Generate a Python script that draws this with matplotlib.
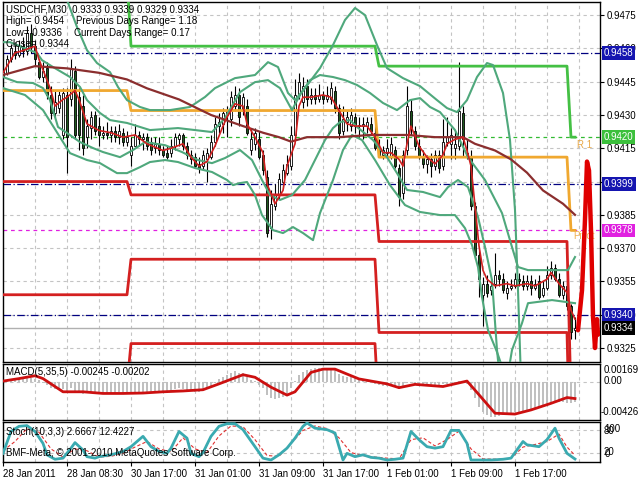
import numpy as np
import matplotlib
matplotlib.use("Agg")
import matplotlib.pyplot as plt
from matplotlib.transforms import blended_transform_factory as btf

plt.rcParams['font.family'] = ['Liberation Sans', 'DejaVu Sans']

# ---------------- price bars (USDCHF M30) ----------------
open_ = [0.9447,0.9449,0.9455,0.9459,0.9457,0.9461,0.9459,0.9467,0.9461,0.9454,
         0.9447,0.9451,0.9439,0.9431,0.9433,0.9421,0.9439,0.9437,0.9450,0.9438,
         0.9434,0.9420,0.9424,0.9430,0.9425,0.9421,0.9422,0.9421,0.9423,0.9420,
         0.9422,0.9418,0.9412,0.9416,0.9421,0.9419,0.9420,0.9418,0.9415,0.9417,
         0.9414,0.9413,0.9413,0.9416,0.9419,0.9421,0.9416,0.9412,0.9411,0.9408,
         0.9407,0.9410,0.9411,0.9418,0.9425,0.9426,0.9430,0.9428,0.9434,0.9439,
         0.9432,0.9434,0.9414,0.9417,0.9419,0.9412,0.9402,0.9379,0.9389,0.9394,
         0.9400,0.9404,0.9407,0.9421,0.9439,0.9436,0.9443,0.9437,0.9439,0.9437,
         0.9439,0.9437,0.9437,0.9441,0.9433,0.9423,0.9427,0.9425,0.9429,0.9425,
         0.9425,0.9425,0.9426,0.9422,0.9415,0.9412,0.9413,0.9411,0.9414,0.9406,
         0.9395,0.9414,0.9432,0.9423,0.9416,0.9411,0.9408,0.9410,0.9407,0.9412,
         0.9407,0.9418,0.9417,0.9415,0.9416,0.9431,0.9413,0.9411,0.9389,0.9367,
         0.9349,0.9354,0.9351,0.9354,0.9358,0.9356,0.9350,0.9352,0.9353,0.9356,
         0.9355,0.9353,0.9355,0.9352,0.9355,0.9349,0.9352,0.9358,0.9361,0.9356,
         0.9349,0.9353,0.9344,0.9333]
high = [0.9452,0.9457,0.9462,0.9463,0.9464,0.9465,0.9470,0.9471,0.9464,0.9455,
        0.9454,0.9454,0.9443,0.9441,0.9441,0.9442,0.9442,0.9455,0.9452,0.9442,
        0.9439,0.9428,0.9432,0.9432,0.9429,0.9425,0.9427,0.9425,0.9425,0.9426,
        0.9424,0.9423,0.9420,0.9426,0.9423,0.9422,0.9422,0.9420,0.9420,0.9420,
        0.9416,0.9416,0.9419,0.9422,0.9422,0.9422,0.9418,0.9414,0.9413,0.9411,
        0.9414,0.9415,0.9421,0.9429,0.9431,0.9433,0.9434,0.9441,0.9443,0.9442,
        0.9440,0.9437,0.9424,0.9424,0.9423,0.9414,0.9405,0.9396,0.9399,0.9404,
        0.9408,0.9412,0.9425,0.9446,0.9449,0.9447,0.9446,0.9442,0.9442,0.9444,
        0.9441,0.9443,0.9445,0.9443,0.9435,0.9434,0.9432,0.9433,0.9431,0.9429,
        0.9429,0.9429,0.9429,0.9425,0.9419,0.9416,0.9419,0.9420,0.9416,0.9408,
        0.9414,0.9443,0.9437,0.9425,0.9419,0.9414,0.9412,0.9413,0.9414,0.9414,
        0.9428,0.9429,0.9424,0.9423,0.9454,0.9434,0.9419,0.9414,0.9391,0.9369,
        0.9357,0.9358,0.9356,0.9368,0.9360,0.9359,0.9355,0.9356,0.9359,0.9359,
        0.9358,0.9358,0.9358,0.9356,0.9358,0.9355,0.9362,0.9364,0.9363,0.9359,
        0.9355,0.9356,0.9345,0.9339]
low = [0.9446,0.9448,0.9454,0.9455,0.9456,0.9456,0.9457,0.9458,0.9452,0.9446,
       0.9445,0.9437,0.9428,0.9429,0.9431,0.9419,0.9404,0.9434,0.9419,0.9414,
       0.9412,0.9415,0.9419,0.9421,0.9416,0.9419,0.9419,0.9418,0.9418,0.9417,
       0.9416,0.9416,0.9407,0.9416,0.9416,0.9414,0.9414,0.9412,0.9413,0.9412,
       0.9411,0.9410,0.9411,0.9414,0.9416,0.9414,0.9410,0.9408,0.9406,0.9404,
       0.9405,0.9400,0.9410,0.9416,0.9422,0.9422,0.9420,0.9425,0.9432,0.9425,
       0.9430,0.9421,0.9412,0.9414,0.9410,0.9403,0.9375,0.9374,0.9387,0.9392,
       0.9397,0.9403,0.9405,0.9419,0.9437,0.9433,0.9434,0.9435,0.9435,0.9436,
       0.9435,0.9436,0.9435,0.9431,0.9419,0.9421,0.9423,0.9423,0.9422,0.9420,
       0.9419,0.9422,0.9421,0.9414,0.9411,0.9410,0.9411,0.9410,0.9406,0.9389,
       0.9392,0.9412,0.9421,0.9414,0.9410,0.9406,0.9404,0.9402,0.9405,0.9404,
       0.9405,0.9416,0.9410,0.9410,0.9414,0.9411,0.9410,0.9387,0.9365,0.9348,
       0.9335,0.9348,0.9349,0.9352,0.9353,0.9350,0.9347,0.9351,0.9352,0.9353,
       0.9351,0.9351,0.9349,0.9351,0.9347,0.9348,0.9351,0.9356,0.9355,0.9348,
       0.9347,0.9342,0.9329,0.9329]
close = [0.9450,0.9455,0.9460,0.9457,0.9461,0.9459,0.9467,0.9461,0.9455,0.9447,
         0.9450,0.9439,0.9431,0.9436,0.9439,0.9440,0.9420,0.9451,0.9421,0.9421,
         0.9415,0.9425,0.9429,0.9423,0.9421,0.9422,0.9421,0.9423,0.9420,0.9423,
         0.9418,0.9420,0.9416,0.9421,0.9419,0.9420,0.9416,0.9414,0.9417,0.9414,
         0.9412,0.9411,0.9416,0.9420,0.9421,0.9416,0.9412,0.9410,0.9407,0.9406,
         0.9412,0.9413,0.9418,0.9426,0.9427,0.9431,0.9432,0.9438,0.9439,0.9429,
         0.9438,0.9422,0.9419,0.9422,0.9411,0.9405,0.9377,0.9390,0.9394,0.9401,
         0.9405,0.9408,0.9421,0.9439,0.9445,0.9443,0.9437,0.9439,0.9437,0.9439,
         0.9437,0.9439,0.9442,0.9433,0.9422,0.9428,0.9429,0.9430,0.9425,0.9425,
         0.9426,0.9427,0.9423,0.9415,0.9412,0.9414,0.9415,0.9417,0.9407,0.9393,
         0.9412,0.9434,0.9424,0.9416,0.9411,0.9408,0.9410,0.9407,0.9412,0.9406,
         0.9418,0.9420,0.9421,0.9417,0.9432,0.9419,0.9411,0.9389,0.9367,0.9356,
         0.9354,0.9350,0.9353,0.9358,0.9356,0.9351,0.9352,0.9353,0.9356,0.9355,
         0.9353,0.9355,0.9352,0.9354,0.9348,0.9352,0.9358,0.9361,0.9356,0.9349,
         0.9353,0.9344,0.9332,0.9334]

# ---------------- moving averages ----------------
fast_ma_bar = [0,3,5,8,9,12,13,15,16,18,19,21,24,27,30,33,36,40,42,45,47,49,51,53,55,56,58,60,61,63,
               65,66,68,70,71,73,74,75,77,80,82,84,86,88,91,93,95,97,99,100,101,102,104,106,108,110,
               111,113,115,116,117,118,119,120,121,123,126,128,131,133,136,137,139,141,142,143]
fast_ma_val = [0.9449,0.9458,0.9459,0.9461,0.9455,0.9441,0.9434,0.9437,0.9438,0.9441,0.9437,0.9426,
               0.9423,0.9422,0.9420,0.9421,0.9417,0.9414,0.9415,0.9417,0.9411,0.9407,0.9409,0.9416,
               0.9425,0.9429,0.9435,0.9434,0.9426,0.9420,0.9413,0.9399,0.9390,0.9396,0.9407,0.9417,
               0.9434,0.9438,0.9438,0.9439,0.9438,0.9432,0.9426,0.9425,0.9425,0.9420,0.9413,0.9413,
               0.9410,0.9407,0.9417,0.9425,0.9416,0.9411,0.9408,0.9412,0.9417,0.9419,0.9420,0.9414,
               0.9407,0.9389,0.9371,0.9360,0.9356,0.9353,0.9354,0.9353,0.9354,0.9353,0.9356,0.9359,
               0.9354,0.9350,0.9342,0.9338]
slow_ma_bar = [0,8,16,24,31,36,44,52,60,65,69,72,76,84,92,101,108,115,118,123,127,131,135,140,143]
slow_ma_val = [0.9448,0.9452,0.9451,0.9449,0.9446,0.9442,0.9437,0.9430,0.9425,0.9422,0.9420,0.9418,
               0.9420,0.9420,0.9421,0.9421,0.9420,0.9420,0.9417,0.9414,0.9410,0.9404,0.9396,0.9390,0.9385]

# ---------------- band curves (green) ----------------
bandP_bar = [0,11.75,16,18.5,21,23.5,26.75,28.75,31,34.25,36.75,41.75,46.75,50.5,53,58,63,66.25,68.75,71.25,
             73,75.5,79.25,82.5,85.5,88,90.5,93.5,96,100,104.25,108.5,111,113.5,116,118.5,121,122.5,125,126.75,
             128,128.75,129.5,130.25]
bandP_val = [0.95088,0.94930,0.94818,0.94696,0.94592,0.94534,0.94493,0.94426,0.94367,0.94336,
             0.94322,0.94322,0.94336,0.94381,0.94421,0.94466,0.94480,0.94538,0.94516,0.94399,
             0.94367,0.94421,0.94511,0.94615,0.94728,0.94782,0.94750,0.94615,0.94511,0.94466,
             0.94430,0.94367,0.94331,0.94313,0.94367,0.94471,0.94534,0.94525,0.94399,0.94187,
             0.93872,0.93511,0.93106,0.92790]
bandQ_bar = [0,1.75,8.5,9.75,12.5,16.75,19.25,21,24.25,26.75,31,34.25,36.75,43.75,52.25,55.5,59.25,63,
             66.25,69.25,72.25,74.25,76.75,79.25,82.5,85.5,88.5,91.75,95,98.5,101.75,104.25,106.75,109.25,
             113,116.25,120.5,124.75,127.25,128.75,131.25,141.25,143]
bandQ_val = [0.94628,0.94628,0.94579,0.94547,0.94516,0.94471,0.94426,0.94367,0.94309,0.94277,
             0.94264,0.94246,0.94232,0.94241,0.94223,0.94286,0.94403,0.94448,0.94457,0.94421,
             0.94322,0.94390,0.94457,0.94480,0.94471,0.94457,0.94435,0.94399,0.94354,0.94322,
             0.94367,0.94376,0.94336,0.94313,0.94232,0.94110,0.94007,0.93858,0.93705,0.93615,
             0.93601,0.93601,0.93660]
bandR_bar = [0,3.5,7.5,10,11.75,13.75,16,19.25,22.5,25,29.25,32.5,35.5,40.5,44.75,48.75,52.25,55.5,
             59.25,62.25,64.75,66.75,69.25,72.25,75.5,78,80.5,82.5,84.25,86.75,88.5,92.5,96,98.5,101,105,
             109.25,111.25,113.75,116.25,118.75,120.5,122.25,123.5,124.25]
bandR_val = [0.94471,0.94448,0.94444,0.94421,0.94367,0.94246,0.94219,0.94178,0.94151,0.94133,
             0.94110,0.94142,0.94178,0.94164,0.94133,0.94097,0.94083,0.94106,0.94142,0.94097,
             0.94007,0.93939,0.93917,0.93939,0.94007,0.94097,0.94187,0.94241,0.94268,0.94277,
             0.94246,0.94187,0.94110,0.94038,0.93962,0.93953,0.93930,0.93975,0.94007,0.93975,
             0.93840,0.93705,0.93556,0.93241,0.93106]
bandS_bar = [0,5.5,10,14.25,16.75,21,24.25,28.5,31,34.25,36.75,40.5,43.75,48,52.25,56,57.5,59.25,61,63,
             64.75,67.5,70,72.5,75,77.5,79.25,82.5,85,87.25,89.75,93,96.75,100.5,104.25,109.25,113,115.5,
             117.25,118.75,119.75,121.25,123.5,125.5,126.75,127.25,129.75,131.25,137.25,143]
bandS_val = [0.94421,0.94390,0.94322,0.94200,0.94128,0.94097,0.94083,0.94038,0.94038,0.94065,
             0.94088,0.94097,0.94088,0.94061,0.94043,0.94007,0.93984,0.93993,0.93998,0.93939,
             0.93849,0.93781,0.93768,0.93795,0.93768,0.93736,0.93858,0.94007,0.94142,0.94210,
             0.94187,0.94097,0.93984,0.93894,0.93863,0.93849,0.93849,0.93790,0.93714,0.93615,
             0.93480,0.93331,0.93232,0.93128,0.93187,0.93241,0.93362,0.93452,0.93466,0.93452]

# ---------------- daily pivot levels ----------------
day_start = [0, 32, 94, 142]
pivot_lv = [0.9441, 0.9432, 0.9411, 0.9378]
r1_lv = [0.9492, 0.9461, 0.9452, 0.9420]
s1_lv = [0.9400, 0.9394, 0.9373, 0.9302]
s2_lv = [0.9349, 0.9365, 0.9332, 0.9260]
s3_lv = [0.9308, 0.9327, 0.9294, 0.9184]

forecast_bar = [143.75, 144.75, 145.5, 146.0, 146.5, 147.0, 147.5, 148.0, 148.5, 148.75]
forecast_val = [0.9333, 0.9351, 0.9383, 0.9409, 0.9405, 0.9378, 0.9339, 0.9325, 0.9338, 0.9331]

navy_levels = [0.9458, 0.9399, 0.9340]
r1_level = 0.9420
pivot_level = 0.9378
bid_level = 0.9334
price_ticks = [0.9325, 0.9340, 0.9355, 0.9370, 0.9385, 0.9400, 0.9415, 0.9430, 0.9445, 0.9460, 0.9475]

# ---------------- MACD(5,35,5) ----------------
macd_hist = [0.0001,0.0001,0.0002,0.0003,0.0003,0.0004,0.0005,0.0005,0.0004,0.0002,
             -0.0001,-0.0004,-0.0007,-0.0009,-0.0010,-0.0009,-0.0011,-0.0008,-0.0011,-0.0013,
             -0.0015,-0.0014,-0.0013,-0.0013,-0.0013,-0.0013,-0.0013,-0.0013,-0.0013,-0.0012,
             -0.0013,-0.0013,-0.0014,-0.0012,-0.0012,-0.0012,-0.0012,-0.0012,-0.0012,-0.0012,
             -0.0012,-0.0012,-0.0011,-0.0009,-0.0008,-0.0009,-0.0010,-0.0011,-0.0012,-0.0012,
             -0.0010,-0.0008,-0.0005,-0.0001,0.0003,0.0006,0.0008,0.0011,0.0013,0.0011,
             0.0011,0.0006,0.0002,0.0001,-0.0004,-0.0008,-0.0016,-0.0020,-0.0021,-0.0020,
             -0.0018,-0.0015,-0.0008,0.0001,0.0008,0.0012,0.0014,0.0016,0.0017,0.0017,
             0.0017,0.0017,0.0017,0.0014,0.0009,0.0007,0.0006,0.0006,0.0005,0.0004,
             0.0003,0.0003,0.0001,-0.0002,-0.0004,-0.0005,-0.0005,-0.0004,-0.0006,-0.0009,
             -0.0006,-0.0001,-0.0001,-0.0003,-0.0004,-0.0005,-0.0005,-0.0005,-0.0005,-0.0005,
             -0.0003,-0.0002,-0.0001,-0.0001,0.0001,0.0001,-0.0002,-0.0010,-0.0020,-0.0030,
             -0.0036,-0.0040,-0.0043,-0.0042,-0.0041,-0.0040,-0.0039,-0.0038,-0.0037,-0.0036,
             -0.0035,-0.0034,-0.0033,-0.0032,-0.0032,-0.0030,-0.0027,-0.0025,-0.0024,-0.0024,
             -0.0024,-0.0025,-0.0026,-0.00245]
macd_sig_bar = [0,4,8,10,15,20,25,30,35,40,45,50,54,60,63,67,71,73,77,80,83,86,89,96,99,103,110,116,
                118,123,128,132,137,141,143]
macd_sig_val = [0.0001,0.0004,0.00075,0.0004,-0.0012,-0.0012,-0.0014,-0.0014,-0.00135,-0.0012,-0.0011,
                -0.00095,-0.00024,0.00087,0.00056,-0.00064,-0.0016,-0.0012,0.00115,0.00155,0.00155,
                0.00095,0.00036,-0.00024,-0.0007,-0.0003,-0.00056,0.0001,-0.0010,-0.0038,-0.0039,
                -0.0034,-0.0026,-0.0019,-0.00202]

# ---------------- Stochastic(10,3,3) ----------------
stoch_bar = [0,2,4,6,8,10,11,13,15,17,18,20,21,23,24,27,30,32,35,37,39,41,42,44,46,47,49,50,52,54,
             56,58,60,63,65,67,69,71,73,75,76,78,81,83,84,85,86,88,90,92,94,96,98,100,102,104,106,
             108,110,112,114,116,117,122,125,127,130,131,134,136,138,139,141,143]
stoch_main = [18,77,91,93,77,45,14,2,5,32,47,27,9,5,9,14,23,36,64,36,23,18,32,77,59,18,9,20,64,91,
              98,98,82,36,5,0,14,32,59,91,100,86,82,73,36,0,18,9,14,7,5,0,2,5,77,55,36,
              32,36,80,80,45,0,0,2,5,50,41,36,55,86,59,18,2.67]
stoch_sig_bar = [0,3,6,9,12,15,18,21,24,27,30,33,36,39,42,45,48,51,54,57,60,63,66,69,72,75,78,81,84,87,
                 90,93,96,99,102,105,108,111,114,117,120,124,127,130,133,136,139,141,143]
stoch_sig = [25,50,85,75,30,8,30,25,8,10,18,35,50,30,22,60,30,20,65,92,90,55,12,10,45,80,92,85,60,20,
             12,8,5,3,55,60,38,55,78,30,3,2,5,35,42,50,70,35,12.42]

time_labels = ['28 Jan 2011', '28 Jan 08:30', '30 Jan 17:00', '31 Jan 01:00', '31 Jan 09:00',
               '31 Jan 17:00', '1 Feb 01:00', '1 Feb 09:00', '1 Feb 17:00']
time_label_bars = [0, 16, 32, 48, 64, 80, 96, 112, 128]

# ======================================================================
W, H = 640, 480
fig = plt.figure(figsize=(W / 100, H / 100), dpi=100)
fig.patch.set_facecolor('white')

def rect(x0, y0, x1, y1):
    return [x0 / W, 1 - y1 / H, (x1 - x0) / W, (y1 - y0) / H]

ax = fig.add_axes(rect(3, 2, 600, 362))
axm = fig.add_axes(rect(3, 364, 600, 420))
axs = fig.add_axes(rect(3, 422, 600, 462))

XMAX = 149.25
grid_bars = list(range(0, 150, 8))
GRID = dict(color='#C4C4C4', lw=0.8, ls=(0, (3, 3)))
FS = 7

for a in (ax, axm, axs):
    a.set_xlim(0, XMAX)
    for s in a.spines.values():
        s.set_color('black')
        s.set_linewidth(1.0)
    for gb in grid_bars[1:]:
        a.axvline(gb, zorder=0, **GRID)
    a.tick_params(axis='x', length=0, labelbottom=False)
    a.set_xticks([])

def ftext(px, py, s, **kw):
    kw.setdefault('color', 'black')
    fig.text(px / W, 1 - py / H, s, fontsize=FS, va='center', ha='left', **kw)

# ---------- main panel ----------
ax.set_ylim(0.93187, 0.94809)
for pt in price_ticks:
    ax.axhline(pt, zorder=0, **GRID)
ax.yaxis.tick_right()
ax.set_yticks(price_ticks)
ax.set_yticklabels(['%.4f' % p for p in price_ticks])
ax.tick_params(axis='y', length=3, width=0.8, pad=2, labelsize=FS, colors='black')

tr = btf(ax.transAxes, ax.transData)
for lv in navy_levels:
    ax.axhline(lv, color='#000080', lw=0.9, ls=(0, (6, 2, 1, 2)), zorder=1)
ax.axhline(r1_level, color='#33BB33', lw=0.9, ls=(0, (3, 3)), zorder=1)
ax.axhline(pivot_level, color='#E020E0', lw=0.9, ls=(0, (3, 3)), zorder=1)
ax.axhline(bid_level, color='#B0B0B0', lw=1.0, zorder=1)

n = len(close)
x = np.arange(n)
o = np.array(open_); c = np.array(close); hh = np.array(high); ll = np.array(low)
ax.vlines(x, ll, hh, color='black', lw=0.8, zorder=3)
bot = np.minimum(o, c)
ht = np.maximum(np.abs(c - o), 0.00003)
up = c >= o
ax.bar(x[up], ht[up], bottom=bot[up], width=0.72, color='white', edgecolor='black', lw=0.6, zorder=4)
ax.bar(x[~up], ht[~up], bottom=bot[~up], width=0.72, color='#1E5A1E', edgecolor='black', lw=0.6, zorder=4)

lengths = np.diff(day_start + [n])
def steps(vals):
    return np.repeat(vals, lengths)
for lvls in (s3_lv, s2_lv, s1_lv):
    ax.plot(x, steps(lvls), color='#D42020', lw=2, zorder=5)
ax.plot(x, steps(pivot_lv), color='#F0A830', lw=2, zorder=5)
ax.plot(x, steps(r1_lv), color='#44C044', lw=2, zorder=5)

band_col = '#4FA87C'
for bb, bv in ((bandP_bar, bandP_val), (bandQ_bar, bandQ_val), (bandR_bar, bandR_val), (bandS_bar, bandS_val)):
    ax.plot(bb, bv, color=band_col, lw=1.5, zorder=6)
ax.plot(slow_ma_bar, slow_ma_val, color='#8B2E2E', lw=1.6, zorder=6)
ax.plot(fast_ma_bar, fast_ma_val, color='#D02020', lw=1.2, zorder=7)

ax.text(143.5, 0.94165, 'R 1', color='#E8A848', fontsize=FS, va='center', ha='left', zorder=6, clip_on=False)
ax.text(142.6, 0.93755, 'Pivot', color='#F0B050', fontsize=FS, va='center', ha='left', zorder=6, clip_on=False)
ax.plot(forecast_bar, forecast_val, color='#E00000', lw=3.2, zorder=8, solid_joinstyle='round', solid_capstyle='round')

boxes = [(0.9458, '#1515B0'), (0.9420, '#3CC03C'), (0.9399, '#1515B0'),
         (0.9378, '#E020E0'), (0.9340, '#1515B0'), (0.9334, '#000000')]
for lv, colr in boxes:
    ax.text(1.0065, lv, '%.4f' % lv, transform=tr, color='white', fontsize=FS, va='center', ha='left',
            zorder=10, clip_on=False,
            bbox=dict(boxstyle='square,pad=0.18', fc=colr, ec='none'))

ftext(6, 10, 'USDCHF,M30  0.9333 0.9339 0.9329 0.9334')
ftext(6, 21, 'High= 0.9454')
ftext(76, 21, 'Previous Days Range= 1.18')
ftext(6, 33, 'Low= 0.9336')
ftext(74, 33, 'Current Days Range= 0.17')
ftext(6, 44, 'Close= 0.9344')

# ---------- MACD panel ----------
axm.set_ylim(-0.00462, 0.00217)
axm.axhline(0, zorder=0, **GRID)
axm.bar(x, macd_hist, width=0.6, color='#C0C0C0', zorder=2)
axm.plot(macd_sig_bar, macd_sig_val, color='#CC1010', lw=2, zorder=3)
axm.set_yticks([])
ftext(604, 370, '0.00169')
ftext(604, 381, '0.00')
ftext(601, 412, '-0.00426')
ftext(6, 372, 'MACD(5,35,5) -0.00245 -0.00202')

# ---------- Stochastic panel ----------
axs.set_ylim(-5.4, 102.7)
axs.axhline(20, zorder=0, **GRID)
axs.axhline(80, zorder=0, **GRID)
axs.plot(stoch_sig_bar, stoch_sig, color='#E03030', lw=0.8, ls=(0, (3, 2)), zorder=2)
axs.plot(stoch_bar, stoch_main, color='#3AAAB0', lw=2, zorder=3)
axs.set_yticks([])
ftext(604, 429, '100')
ftext(604, 431, '80')
ftext(604, 452, '20')
ftext(605, 454, '0')
ftext(6, 432, 'Stoch(10,3,3) 2.6667 12.4227')
ftext(6, 453, 'BMF-Meta, \u00a9 2001-2010 MetaQuotes Software Corp.')

axs.set_xticks(time_label_bars)
axs.set_xticklabels(time_labels, ha='left')
axs.tick_params(axis='x', length=3, width=0.8, pad=2, labelsize=FS, labelbottom=True)

fig.savefig('out.png', dpi=100)
